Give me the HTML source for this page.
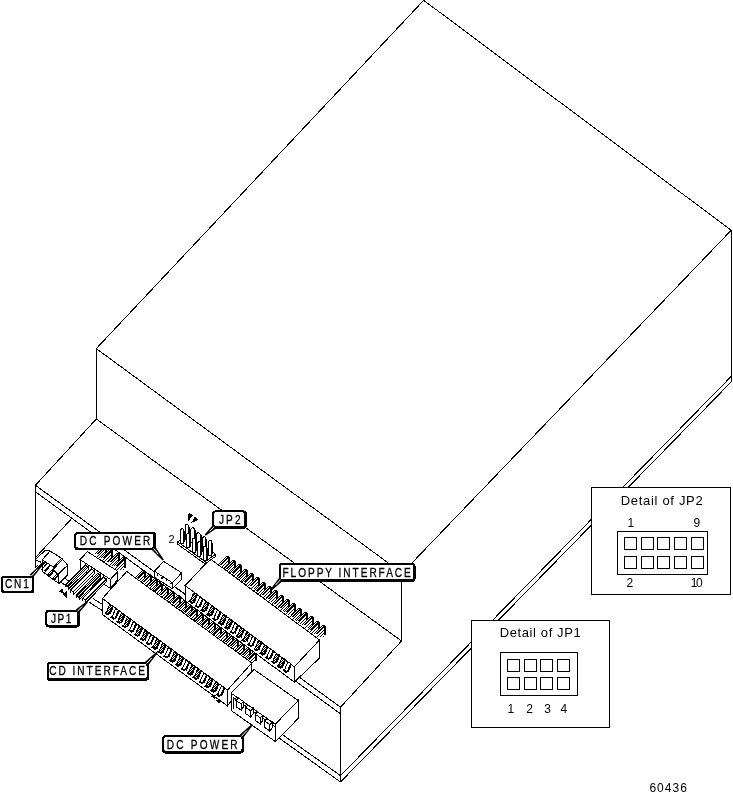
<!DOCTYPE html>
<html lang="en">
<head>
<meta charset="utf-8">
<title>Drive connector diagram</title>
<style>
html,body{margin:0;padding:0;background:#fff;}
body{width:733px;height:802px;overflow:hidden;}
svg{display:block;will-change:transform;}
svg text{font-family:"Liberation Sans",sans-serif;fill:#000;stroke:none;}
svg text.lb{stroke:#000;stroke-width:0.3px;}
</style>
</head>
<body>
<svg width="733" height="802" viewBox="0 0 733 802" shape-rendering="crispEdges" stroke="#000" stroke-width="1" fill="none">
<defs>
<pattern id="dz" width="2" height="2" patternUnits="userSpaceOnUse"><rect width="2" height="2" fill="#fff" stroke="none"/><rect width="1" height="1" fill="#000" stroke="none"/><rect x="1" y="1" width="1" height="1" fill="#000" stroke="none"/></pattern>
<pattern id="hz" width="3" height="3" patternUnits="userSpaceOnUse"><rect width="3" height="3" fill="#fff" stroke="none"/><path d="M2,0h1v1h-1zM1,1h1v1h-1zM0,2h1v1h-1z" fill="#000" stroke="none"/></pattern>
</defs>
<rect width="733" height="802" fill="#fff" stroke="none"/>
<line x1="423.7" y1="0.3" x2="731.2" y2="230.3"/>
<line x1="423.7" y1="0.3" x2="96.3" y2="348.6"/>
<line x1="96.3" y1="348.6" x2="401.5" y2="572.7"/>
<line x1="731.2" y1="230.3" x2="402.6" y2="572.7"/>
<line x1="96.3" y1="348.6" x2="96.3" y2="419"/>
<line x1="731.5" y1="230.3" x2="731.5" y2="381.6"/>
<line x1="401.5" y1="572.7" x2="401.5" y2="641"/>
<line x1="96.3" y1="419" x2="401.5" y2="641"/>
<line x1="96.3" y1="419" x2="35.4" y2="485.3"/>
<line x1="35.5" y1="485.3" x2="35.5" y2="567.6"/>
<line x1="35.4" y1="485.3" x2="340.5" y2="707.2"/>
<line x1="36.4" y1="492.5" x2="340.5" y2="713.8"/>
<line x1="71.8" y1="518.4" x2="35.8" y2="557.2"/>
<line x1="45.7" y1="550" x2="36.1" y2="558.6"/>
<line x1="731.5" y1="376.1" x2="340.5" y2="775.6"/>
<line x1="731.5" y1="381.6" x2="340.5" y2="782"/>
<line x1="340.5" y1="707.2" x2="340.5" y2="782"/>
<line x1="401.5" y1="641" x2="340.5" y2="707.2"/>
<line x1="340.5" y1="775.6" x2="276" y2="730.1"/>
<line x1="340.5" y1="782" x2="276" y2="735.8"/>
<polygon points="61.7,558.3 67.7,565.2 67.7,574.8 58.9,583.6 43,572 42.2,559.7" fill="#fff" stroke="#000"/>
<line x1="67.7" y1="565.2" x2="57.8" y2="574.5"/>
<line x1="58.9" y1="574.5" x2="58.9" y2="583.6"/>
<line x1="53.4" y1="567.1" x2="53.4" y2="569.8"/>
<line x1="53.4" y1="569.8" x2="57.8" y2="574.5"/>
<line x1="64.4" y1="578.1" x2="72.3" y2="583.6"/>
<line x1="60.6" y1="581.9" x2="67.7" y2="586.9"/>
<polygon points="42.2,559.7 50.1,551.1 61.7,558.3 53.4,567.1" fill="#fff" stroke="#000"/>
<line x1="61.7" y1="560" x2="54" y2="568.6"/>
<line x1="45.7" y1="550" x2="50.1" y2="551.1"/>
<line x1="42.2" y1="559.7" x2="42.2" y2="562.7"/>
<line x1="35.8" y1="559.9" x2="42.2" y2="562.7"/>
<line x1="35.6" y1="567.6" x2="39.7" y2="564.3"/>
<polygon points="44.6,561.4 46,562.6 38,570.6 36.6,569.4" fill="#000" stroke="none"/>
<polygon points="42,561.6 43,562.4 37,568.4 36,567.6" fill="url(#dz)" stroke="none"/>
<polygon points="49.6,564.4 51,565.8 45.4,572.2 44,570.8" fill="#000" stroke="none"/>
<line x1="47.4" y1="563" x2="41.2" y2="570"/>
<polygon points="52.2,569.8 54,571.2 49,576.6 47.2,575.2" fill="url(#hz)" stroke="#000"/>
<polygon points="56.8,574.2 58.4,575.6 54.4,580 52.8,578.6" fill="url(#hz)" stroke="#000"/>
<polygon points="105,547 105,558 94,558" fill="url(#hz)" stroke="none"/>
<polygon points="111,551 111,562 100,562" fill="url(#hz)" stroke="none"/>
<polygon points="118,555 118,566 107,566" fill="url(#hz)" stroke="none"/>
<polygon points="124,559 124,570 113,570" fill="url(#hz)" stroke="none"/>
<rect x="105" y="546" width="2" height="10" fill="#000" stroke="none"/>
<rect x="103" y="545" width="3" height="1" fill="#000" stroke="none"/>
<polygon points="103,546 105,546 97,554 95,554" fill="#fff" stroke="none"/>
<polygon points="102,546 103,546 95,554 94,554" fill="#000" stroke="none"/>
<polygon points="104.6,546 106,546 98,554 96.6,554" fill="#000" stroke="none"/>
<rect x="111" y="550" width="2" height="10" fill="#000" stroke="none"/>
<rect x="109" y="549" width="3" height="1" fill="#000" stroke="none"/>
<polygon points="109,550 111,550 103,558 101,558" fill="#fff" stroke="none"/>
<polygon points="108,550 109,550 101,558 100,558" fill="#000" stroke="none"/>
<polygon points="110.6,550 112,550 104,558 102.6,558" fill="#000" stroke="none"/>
<rect x="118" y="554" width="2" height="10" fill="#000" stroke="none"/>
<rect x="116" y="553" width="3" height="1" fill="#000" stroke="none"/>
<polygon points="116,554 118,554 110,562 108,562" fill="#fff" stroke="none"/>
<polygon points="115,554 116,554 108,562 107,562" fill="#000" stroke="none"/>
<polygon points="117.6,554 119,554 111,562 109.6,562" fill="#000" stroke="none"/>
<rect x="124" y="558" width="2" height="10" fill="#000" stroke="none"/>
<rect x="122" y="557" width="3" height="1" fill="#000" stroke="none"/>
<polygon points="122,558 124,558 116,566 114,566" fill="#fff" stroke="none"/>
<polygon points="121,558 122,558 114,566 113,566" fill="#000" stroke="none"/>
<polygon points="123.6,558 125,558 117,566 115.6,566" fill="#000" stroke="none"/>
<line x1="93.2" y1="598.7" x2="102.3" y2="604.4"/>
<line x1="88.9" y1="602" x2="102.3" y2="610.6"/>
<polygon points="110.4,579.4 117.9,571.4 117.9,579.4 110.4,588.4" fill="#fff" stroke="#000"/>
<polygon points="80,559.6 110.4,579.4 110.4,588.4 80,568.6" fill="#fff" stroke="#000"/>
<polygon points="80,559.6 110.4,579.4 117.9,571.4 87.5,551.6" fill="#fff" stroke="#000"/>
<polygon points="85.4,565 88,567.2 68.4,586.2 65.8,584" fill="url(#dz)" stroke="#000"/>
<polygon points="88,567.2 88,570 68.4,589 68.4,586.2" fill="#fff" stroke="#000"/>
<line x1="65.8" y1="584" x2="65.8" y2="586.8"/>
<polygon points="91.6,568.7 94.2,570.9 73.3,592 70.7,589.8" fill="#fff" stroke="#000"/>
<polygon points="94.2,570.9 94.2,573.7 73.3,594.8 73.3,592" fill="#fff" stroke="#000"/>
<line x1="70.7" y1="589.8" x2="70.7" y2="592.6"/>
<polygon points="97.8,573 100.4,575.2 79.1,597.4 76.5,595.2" fill="url(#dz)" stroke="#000"/>
<polygon points="100.4,575.2 100.4,578 79.1,600.2 79.1,597.4" fill="#fff" stroke="#000"/>
<line x1="76.5" y1="595.2" x2="76.5" y2="598"/>
<polygon points="103.5,577.1 106.1,579.3 85.3,600.3 82.7,598.1" fill="#fff" stroke="#000"/>
<polygon points="106.1,579.3 106.1,582.1 85.3,603.1 85.3,600.3" fill="#fff" stroke="#000"/>
<line x1="82.7" y1="598.1" x2="82.7" y2="600.9"/>
<polygon points="58.6,591.5 63.2,588 63.6,593.6" fill="#000" stroke="none"/>
<polygon points="62.8,595 67.2,590.6 67.2,598" fill="#000" stroke="none"/>
<polygon points="144,572 144,582 134,582" fill="url(#hz)" stroke="none"/>
<polygon points="150,576 150,586 140,586" fill="url(#hz)" stroke="none"/>
<polygon points="156,580 156,590 146,590" fill="url(#hz)" stroke="none"/>
<polygon points="161,585 161,595 151,595" fill="url(#hz)" stroke="none"/>
<polygon points="167,589 167,599 157,599" fill="url(#hz)" stroke="none"/>
<polygon points="173,593 173,603 163,603" fill="url(#hz)" stroke="none"/>
<polygon points="179,597 179,607 169,607" fill="url(#hz)" stroke="none"/>
<polygon points="185,602 185,612 175,612" fill="url(#hz)" stroke="none"/>
<polygon points="191,606 191,616 181,616" fill="url(#hz)" stroke="none"/>
<polygon points="196,610 196,620 186,620" fill="url(#hz)" stroke="none"/>
<polygon points="202,615 202,625 192,625" fill="url(#hz)" stroke="none"/>
<polygon points="208,619 208,629 198,629" fill="url(#hz)" stroke="none"/>
<polygon points="214,623 214,633 204,633" fill="url(#hz)" stroke="none"/>
<polygon points="220,628 220,638 210,638" fill="url(#hz)" stroke="none"/>
<polygon points="226,632 226,642 216,642" fill="url(#hz)" stroke="none"/>
<polygon points="232,636 232,646 222,646" fill="url(#hz)" stroke="none"/>
<polygon points="237,640 237,650 227,650" fill="url(#hz)" stroke="none"/>
<polygon points="243,645 243,655 233,655" fill="url(#hz)" stroke="none"/>
<polygon points="249,649 249,659 239,659" fill="url(#hz)" stroke="none"/>
<polygon points="255,653 255,663 245,663" fill="url(#hz)" stroke="none"/>
<rect x="144" y="571" width="2" height="9" fill="#000" stroke="none"/>
<rect x="142" y="570" width="3" height="1" fill="#000" stroke="none"/>
<polygon points="142,571 144,571 137,578 135,578" fill="#fff" stroke="none"/>
<polygon points="141,571 142,571 135,578 134,578" fill="#000" stroke="none"/>
<polygon points="143.6,571 145,571 138,578 136.6,578" fill="#000" stroke="none"/>
<rect x="150" y="575" width="2" height="9" fill="#000" stroke="none"/>
<rect x="148" y="574" width="3" height="1" fill="#000" stroke="none"/>
<polygon points="148,575 150,575 143,582 141,582" fill="#fff" stroke="none"/>
<polygon points="147,575 148,575 141,582 140,582" fill="#000" stroke="none"/>
<polygon points="149.6,575 151,575 144,582 142.6,582" fill="#000" stroke="none"/>
<rect x="156" y="579" width="2" height="9" fill="#000" stroke="none"/>
<rect x="154" y="578" width="3" height="1" fill="#000" stroke="none"/>
<polygon points="154,579 156,579 149,586 147,586" fill="#fff" stroke="none"/>
<polygon points="153,579 154,579 147,586 146,586" fill="#000" stroke="none"/>
<polygon points="155.6,579 157,579 150,586 148.6,586" fill="#000" stroke="none"/>
<rect x="161" y="584" width="2" height="9" fill="#000" stroke="none"/>
<rect x="159" y="583" width="3" height="1" fill="#000" stroke="none"/>
<polygon points="159,584 161,584 154,591 152,591" fill="#fff" stroke="none"/>
<polygon points="158,584 159,584 152,591 151,591" fill="#000" stroke="none"/>
<polygon points="160.6,584 162,584 155,591 153.6,591" fill="#000" stroke="none"/>
<rect x="167" y="588" width="2" height="9" fill="#000" stroke="none"/>
<rect x="165" y="587" width="3" height="1" fill="#000" stroke="none"/>
<polygon points="165,588 167,588 160,595 158,595" fill="#fff" stroke="none"/>
<polygon points="164,588 165,588 158,595 157,595" fill="#000" stroke="none"/>
<polygon points="166.6,588 168,588 161,595 159.6,595" fill="#000" stroke="none"/>
<rect x="173" y="592" width="2" height="9" fill="#000" stroke="none"/>
<rect x="171" y="591" width="3" height="1" fill="#000" stroke="none"/>
<polygon points="171,592 173,592 166,599 164,599" fill="#fff" stroke="none"/>
<polygon points="170,592 171,592 164,599 163,599" fill="#000" stroke="none"/>
<polygon points="172.6,592 174,592 167,599 165.6,599" fill="#000" stroke="none"/>
<rect x="179" y="596" width="2" height="9" fill="#000" stroke="none"/>
<rect x="177" y="595" width="3" height="1" fill="#000" stroke="none"/>
<polygon points="177,596 179,596 172,603 170,603" fill="#fff" stroke="none"/>
<polygon points="176,596 177,596 170,603 169,603" fill="#000" stroke="none"/>
<polygon points="178.6,596 180,596 173,603 171.6,603" fill="#000" stroke="none"/>
<rect x="185" y="601" width="2" height="9" fill="#000" stroke="none"/>
<rect x="183" y="600" width="3" height="1" fill="#000" stroke="none"/>
<polygon points="183,601 185,601 178,608 176,608" fill="#fff" stroke="none"/>
<polygon points="182,601 183,601 176,608 175,608" fill="#000" stroke="none"/>
<polygon points="184.6,601 186,601 179,608 177.6,608" fill="#000" stroke="none"/>
<rect x="191" y="605" width="2" height="9" fill="#000" stroke="none"/>
<rect x="189" y="604" width="3" height="1" fill="#000" stroke="none"/>
<polygon points="189,605 191,605 184,612 182,612" fill="#fff" stroke="none"/>
<polygon points="188,605 189,605 182,612 181,612" fill="#000" stroke="none"/>
<polygon points="190.6,605 192,605 185,612 183.6,612" fill="#000" stroke="none"/>
<rect x="196" y="609" width="2" height="9" fill="#000" stroke="none"/>
<rect x="194" y="608" width="3" height="1" fill="#000" stroke="none"/>
<polygon points="194,609 196,609 189,616 187,616" fill="#fff" stroke="none"/>
<polygon points="193,609 194,609 187,616 186,616" fill="#000" stroke="none"/>
<polygon points="195.6,609 197,609 190,616 188.6,616" fill="#000" stroke="none"/>
<rect x="202" y="614" width="2" height="9" fill="#000" stroke="none"/>
<rect x="200" y="613" width="3" height="1" fill="#000" stroke="none"/>
<polygon points="200,614 202,614 195,621 193,621" fill="#fff" stroke="none"/>
<polygon points="199,614 200,614 193,621 192,621" fill="#000" stroke="none"/>
<polygon points="201.6,614 203,614 196,621 194.6,621" fill="#000" stroke="none"/>
<rect x="208" y="618" width="2" height="9" fill="#000" stroke="none"/>
<rect x="206" y="617" width="3" height="1" fill="#000" stroke="none"/>
<polygon points="206,618 208,618 201,625 199,625" fill="#fff" stroke="none"/>
<polygon points="205,618 206,618 199,625 198,625" fill="#000" stroke="none"/>
<polygon points="207.6,618 209,618 202,625 200.6,625" fill="#000" stroke="none"/>
<rect x="214" y="622" width="2" height="9" fill="#000" stroke="none"/>
<rect x="212" y="621" width="3" height="1" fill="#000" stroke="none"/>
<polygon points="212,622 214,622 207,629 205,629" fill="#fff" stroke="none"/>
<polygon points="211,622 212,622 205,629 204,629" fill="#000" stroke="none"/>
<polygon points="213.6,622 215,622 208,629 206.6,629" fill="#000" stroke="none"/>
<rect x="220" y="627" width="2" height="9" fill="#000" stroke="none"/>
<rect x="218" y="626" width="3" height="1" fill="#000" stroke="none"/>
<polygon points="218,627 220,627 213,634 211,634" fill="#fff" stroke="none"/>
<polygon points="217,627 218,627 211,634 210,634" fill="#000" stroke="none"/>
<polygon points="219.6,627 221,627 214,634 212.6,634" fill="#000" stroke="none"/>
<rect x="226" y="631" width="2" height="9" fill="#000" stroke="none"/>
<rect x="224" y="630" width="3" height="1" fill="#000" stroke="none"/>
<polygon points="224,631 226,631 219,638 217,638" fill="#fff" stroke="none"/>
<polygon points="223,631 224,631 217,638 216,638" fill="#000" stroke="none"/>
<polygon points="225.6,631 227,631 220,638 218.6,638" fill="#000" stroke="none"/>
<rect x="232" y="635" width="2" height="9" fill="#000" stroke="none"/>
<rect x="230" y="634" width="3" height="1" fill="#000" stroke="none"/>
<polygon points="230,635 232,635 225,642 223,642" fill="#fff" stroke="none"/>
<polygon points="229,635 230,635 223,642 222,642" fill="#000" stroke="none"/>
<polygon points="231.6,635 233,635 226,642 224.6,642" fill="#000" stroke="none"/>
<rect x="237" y="639" width="2" height="9" fill="#000" stroke="none"/>
<rect x="235" y="638" width="3" height="1" fill="#000" stroke="none"/>
<polygon points="235,639 237,639 230,646 228,646" fill="#fff" stroke="none"/>
<polygon points="234,639 235,639 228,646 227,646" fill="#000" stroke="none"/>
<polygon points="236.6,639 238,639 231,646 229.6,646" fill="#000" stroke="none"/>
<rect x="243" y="644" width="2" height="9" fill="#000" stroke="none"/>
<rect x="241" y="643" width="3" height="1" fill="#000" stroke="none"/>
<polygon points="241,644 243,644 236,651 234,651" fill="#fff" stroke="none"/>
<polygon points="240,644 241,644 234,651 233,651" fill="#000" stroke="none"/>
<polygon points="242.6,644 244,644 237,651 235.6,651" fill="#000" stroke="none"/>
<rect x="249" y="648" width="2" height="9" fill="#000" stroke="none"/>
<rect x="247" y="647" width="3" height="1" fill="#000" stroke="none"/>
<polygon points="247,648 249,648 242,655 240,655" fill="#fff" stroke="none"/>
<polygon points="246,648 247,648 240,655 239,655" fill="#000" stroke="none"/>
<polygon points="248.6,648 250,648 243,655 241.6,655" fill="#000" stroke="none"/>
<rect x="255" y="652" width="2" height="9" fill="#000" stroke="none"/>
<rect x="253" y="651" width="3" height="1" fill="#000" stroke="none"/>
<polygon points="253,652 255,652 248,659 246,659" fill="#fff" stroke="none"/>
<polygon points="252,652 253,652 246,659 245,659" fill="#000" stroke="none"/>
<polygon points="254.6,652 256,652 249,659 247.6,659" fill="#000" stroke="none"/>
<polygon points="228,558 228,568 218,568" fill="url(#hz)" stroke="none"/>
<polygon points="234,562 234,572 224,572" fill="url(#hz)" stroke="none"/>
<polygon points="240,566 240,576 230,576" fill="url(#hz)" stroke="none"/>
<polygon points="246,571 246,581 236,581" fill="url(#hz)" stroke="none"/>
<polygon points="252,575 252,585 242,585" fill="url(#hz)" stroke="none"/>
<polygon points="258,579 258,589 248,589" fill="url(#hz)" stroke="none"/>
<polygon points="264,584 264,594 254,594" fill="url(#hz)" stroke="none"/>
<polygon points="270,588 270,598 260,598" fill="url(#hz)" stroke="none"/>
<polygon points="276,592 276,602 266,602" fill="url(#hz)" stroke="none"/>
<polygon points="282,597 282,607 272,607" fill="url(#hz)" stroke="none"/>
<polygon points="288,601 288,611 278,611" fill="url(#hz)" stroke="none"/>
<polygon points="294,605 294,615 284,615" fill="url(#hz)" stroke="none"/>
<polygon points="300,610 300,620 290,620" fill="url(#hz)" stroke="none"/>
<polygon points="306,614 306,624 296,624" fill="url(#hz)" stroke="none"/>
<polygon points="312,618 312,628 302,628" fill="url(#hz)" stroke="none"/>
<polygon points="318,623 318,633 308,633" fill="url(#hz)" stroke="none"/>
<polygon points="324,627 324,637 314,637" fill="url(#hz)" stroke="none"/>
<rect x="228" y="557" width="2" height="9" fill="#000" stroke="none"/>
<rect x="226" y="556" width="3" height="1" fill="#000" stroke="none"/>
<polygon points="226,557 228,557 220,565 218,565" fill="#fff" stroke="none"/>
<polygon points="225,557 226,557 218,565 217,565" fill="#000" stroke="none"/>
<polygon points="227.6,557 229,557 221,565 219.6,565" fill="#000" stroke="none"/>
<rect x="234" y="561" width="2" height="9" fill="#000" stroke="none"/>
<rect x="232" y="560" width="3" height="1" fill="#000" stroke="none"/>
<polygon points="232,561 234,561 226,569 224,569" fill="#fff" stroke="none"/>
<polygon points="231,561 232,561 224,569 223,569" fill="#000" stroke="none"/>
<polygon points="233.6,561 235,561 227,569 225.6,569" fill="#000" stroke="none"/>
<rect x="240" y="565" width="2" height="9" fill="#000" stroke="none"/>
<rect x="238" y="564" width="3" height="1" fill="#000" stroke="none"/>
<polygon points="238,565 240,565 232,573 230,573" fill="#fff" stroke="none"/>
<polygon points="237,565 238,565 230,573 229,573" fill="#000" stroke="none"/>
<polygon points="239.6,565 241,565 233,573 231.6,573" fill="#000" stroke="none"/>
<rect x="246" y="570" width="2" height="9" fill="#000" stroke="none"/>
<rect x="244" y="569" width="3" height="1" fill="#000" stroke="none"/>
<polygon points="244,570 246,570 238,578 236,578" fill="#fff" stroke="none"/>
<polygon points="243,570 244,570 236,578 235,578" fill="#000" stroke="none"/>
<polygon points="245.6,570 247,570 239,578 237.6,578" fill="#000" stroke="none"/>
<rect x="252" y="574" width="2" height="9" fill="#000" stroke="none"/>
<rect x="250" y="573" width="3" height="1" fill="#000" stroke="none"/>
<polygon points="250,574 252,574 244,582 242,582" fill="#fff" stroke="none"/>
<polygon points="249,574 250,574 242,582 241,582" fill="#000" stroke="none"/>
<polygon points="251.6,574 253,574 245,582 243.6,582" fill="#000" stroke="none"/>
<rect x="258" y="578" width="2" height="9" fill="#000" stroke="none"/>
<rect x="256" y="577" width="3" height="1" fill="#000" stroke="none"/>
<polygon points="256,578 258,578 250,586 248,586" fill="#fff" stroke="none"/>
<polygon points="255,578 256,578 248,586 247,586" fill="#000" stroke="none"/>
<polygon points="257.6,578 259,578 251,586 249.6,586" fill="#000" stroke="none"/>
<rect x="264" y="583" width="2" height="9" fill="#000" stroke="none"/>
<rect x="262" y="582" width="3" height="1" fill="#000" stroke="none"/>
<polygon points="262,583 264,583 256,591 254,591" fill="#fff" stroke="none"/>
<polygon points="261,583 262,583 254,591 253,591" fill="#000" stroke="none"/>
<polygon points="263.6,583 265,583 257,591 255.6,591" fill="#000" stroke="none"/>
<rect x="270" y="587" width="2" height="9" fill="#000" stroke="none"/>
<rect x="268" y="586" width="3" height="1" fill="#000" stroke="none"/>
<polygon points="268,587 270,587 262,595 260,595" fill="#fff" stroke="none"/>
<polygon points="267,587 268,587 260,595 259,595" fill="#000" stroke="none"/>
<polygon points="269.6,587 271,587 263,595 261.6,595" fill="#000" stroke="none"/>
<rect x="276" y="591" width="2" height="9" fill="#000" stroke="none"/>
<rect x="274" y="590" width="3" height="1" fill="#000" stroke="none"/>
<polygon points="274,591 276,591 268,599 266,599" fill="#fff" stroke="none"/>
<polygon points="273,591 274,591 266,599 265,599" fill="#000" stroke="none"/>
<polygon points="275.6,591 277,591 269,599 267.6,599" fill="#000" stroke="none"/>
<rect x="282" y="596" width="2" height="9" fill="#000" stroke="none"/>
<rect x="280" y="595" width="3" height="1" fill="#000" stroke="none"/>
<polygon points="280,596 282,596 274,604 272,604" fill="#fff" stroke="none"/>
<polygon points="279,596 280,596 272,604 271,604" fill="#000" stroke="none"/>
<polygon points="281.6,596 283,596 275,604 273.6,604" fill="#000" stroke="none"/>
<rect x="288" y="600" width="2" height="9" fill="#000" stroke="none"/>
<rect x="286" y="599" width="3" height="1" fill="#000" stroke="none"/>
<polygon points="286,600 288,600 280,608 278,608" fill="#fff" stroke="none"/>
<polygon points="285,600 286,600 278,608 277,608" fill="#000" stroke="none"/>
<polygon points="287.6,600 289,600 281,608 279.6,608" fill="#000" stroke="none"/>
<rect x="294" y="604" width="2" height="9" fill="#000" stroke="none"/>
<rect x="292" y="603" width="3" height="1" fill="#000" stroke="none"/>
<polygon points="292,604 294,604 286,612 284,612" fill="#fff" stroke="none"/>
<polygon points="291,604 292,604 284,612 283,612" fill="#000" stroke="none"/>
<polygon points="293.6,604 295,604 287,612 285.6,612" fill="#000" stroke="none"/>
<rect x="300" y="609" width="2" height="9" fill="#000" stroke="none"/>
<rect x="298" y="608" width="3" height="1" fill="#000" stroke="none"/>
<polygon points="298,609 300,609 292,617 290,617" fill="#fff" stroke="none"/>
<polygon points="297,609 298,609 290,617 289,617" fill="#000" stroke="none"/>
<polygon points="299.6,609 301,609 293,617 291.6,617" fill="#000" stroke="none"/>
<rect x="306" y="613" width="2" height="9" fill="#000" stroke="none"/>
<rect x="304" y="612" width="3" height="1" fill="#000" stroke="none"/>
<polygon points="304,613 306,613 298,621 296,621" fill="#fff" stroke="none"/>
<polygon points="303,613 304,613 296,621 295,621" fill="#000" stroke="none"/>
<polygon points="305.6,613 307,613 299,621 297.6,621" fill="#000" stroke="none"/>
<rect x="312" y="617" width="2" height="9" fill="#000" stroke="none"/>
<rect x="310" y="616" width="3" height="1" fill="#000" stroke="none"/>
<polygon points="310,617 312,617 304,625 302,625" fill="#fff" stroke="none"/>
<polygon points="309,617 310,617 302,625 301,625" fill="#000" stroke="none"/>
<polygon points="311.6,617 313,617 305,625 303.6,625" fill="#000" stroke="none"/>
<rect x="318" y="622" width="2" height="9" fill="#000" stroke="none"/>
<rect x="316" y="621" width="3" height="1" fill="#000" stroke="none"/>
<polygon points="316,622 318,622 310,630 308,630" fill="#fff" stroke="none"/>
<polygon points="315,622 316,622 308,630 307,630" fill="#000" stroke="none"/>
<polygon points="317.6,622 319,622 311,630 309.6,630" fill="#000" stroke="none"/>
<rect x="324" y="626" width="2" height="9" fill="#000" stroke="none"/>
<rect x="322" y="625" width="3" height="1" fill="#000" stroke="none"/>
<polygon points="322,626 324,626 316,634 314,634" fill="#fff" stroke="none"/>
<polygon points="321,626 322,626 314,634 313,634" fill="#000" stroke="none"/>
<polygon points="323.6,626 325,626 317,634 315.6,634" fill="#000" stroke="none"/>
<polygon points="294.3,666.8 319.5,640 319.5,658 294.3,682.1" fill="#fff" stroke="#000"/>
<polygon points="185.1,585.6 294.3,666.8 294.3,682.1 185.1,600.9" fill="#fff" stroke="#000"/>
<polygon points="185.1,585.6 294.3,666.8 319.5,640 210.3,558.8" fill="#fff" stroke="#000"/>
<polygon points="193.6,593.3 196.6,594.3 193,602.5 190,601.5" fill="url(#dz)" stroke="#000"/>
<polygon points="196.6,594.1 197.9,595.1 194.3,603.3 193,602.3" fill="#000" stroke="none"/>
<polygon points="189.5,600.3 193,602.9 192.2,604.1 188.2,601.7" fill="#000" stroke="none"/>
<polygon points="199.5,597.6 202.5,598.6 198.9,606.8 195.9,605.8" fill="#fff" stroke="#000"/>
<polygon points="202.5,598.4 203.8,599.4 200.2,607.6 198.9,606.6" fill="#000" stroke="none"/>
<polygon points="195.4,604.6 198.9,607.2 198.1,608.4 194.1,606" fill="#000" stroke="none"/>
<polygon points="205.4,601.9 208.4,602.9 204.8,611.1 201.8,610.1" fill="url(#dz)" stroke="#000"/>
<polygon points="208.4,602.7 209.7,603.7 206.1,611.9 204.8,610.9" fill="#000" stroke="none"/>
<polygon points="201.3,608.9 204.8,611.5 204,612.7 200,610.3" fill="#000" stroke="none"/>
<polygon points="211.3,606.2 214.3,607.2 210.7,615.4 207.7,614.4" fill="url(#dz)" stroke="#000"/>
<polygon points="214.3,607 215.6,608 212,616.2 210.7,615.2" fill="#000" stroke="none"/>
<polygon points="207.2,613.2 210.7,615.8 209.9,617 205.9,614.6" fill="#000" stroke="none"/>
<polygon points="217.2,610.5 220.2,611.5 216.6,619.7 213.6,618.7" fill="#fff" stroke="#000"/>
<polygon points="220.2,611.3 221.5,612.3 217.9,620.5 216.6,619.5" fill="#000" stroke="none"/>
<polygon points="213.1,617.5 216.6,620.1 215.8,621.3 211.8,618.9" fill="#000" stroke="none"/>
<polygon points="223,614.8 226,615.8 222.4,624 219.4,623" fill="url(#dz)" stroke="#000"/>
<polygon points="226,615.6 227.3,616.6 223.8,624.8 222.4,623.8" fill="#000" stroke="none"/>
<polygon points="218.9,621.8 222.4,624.4 221.6,625.6 217.6,623.2" fill="#000" stroke="none"/>
<polygon points="228.9,619.2 231.9,620.2 228.3,628.4 225.3,627.4" fill="url(#dz)" stroke="#000"/>
<polygon points="231.9,620 233.2,621 229.6,629.2 228.3,628.2" fill="#000" stroke="none"/>
<polygon points="224.8,626.2 228.3,628.8 227.5,630 223.5,627.6" fill="#000" stroke="none"/>
<polygon points="234.8,623.5 237.8,624.5 234.2,632.7 231.2,631.7" fill="#fff" stroke="#000"/>
<polygon points="237.8,624.3 239.1,625.3 235.5,633.5 234.2,632.5" fill="#000" stroke="none"/>
<polygon points="230.7,630.5 234.2,633.1 233.4,634.3 229.4,631.9" fill="#000" stroke="none"/>
<polygon points="240.7,627.8 243.7,628.8 240.1,637 237.1,636" fill="url(#dz)" stroke="#000"/>
<polygon points="243.7,628.6 245,629.6 241.4,637.8 240.1,636.8" fill="#000" stroke="none"/>
<polygon points="236.6,634.8 240.1,637.4 239.3,638.6 235.3,636.2" fill="#000" stroke="none"/>
<polygon points="246.6,632.1 249.6,633.1 246,641.3 243,640.3" fill="url(#dz)" stroke="#000"/>
<polygon points="249.6,632.9 250.9,633.9 247.3,642.1 246,641.1" fill="#000" stroke="none"/>
<polygon points="242.5,639.1 246,641.7 245.2,642.9 241.2,640.5" fill="#000" stroke="none"/>
<polygon points="252.5,636.4 255.5,637.4 251.9,645.6 248.9,644.6" fill="#fff" stroke="#000"/>
<polygon points="255.5,637.2 256.8,638.2 253.2,646.4 251.9,645.4" fill="#000" stroke="none"/>
<polygon points="248.4,643.4 251.9,646 251.1,647.2 247.1,644.8" fill="#000" stroke="none"/>
<polygon points="258.4,640.7 261.4,641.7 257.8,649.9 254.8,648.9" fill="url(#dz)" stroke="#000"/>
<polygon points="261.4,641.5 262.7,642.5 259.1,650.7 257.8,649.7" fill="#000" stroke="none"/>
<polygon points="254.3,647.7 257.8,650.3 257,651.5 253,649.1" fill="#000" stroke="none"/>
<polygon points="264.3,645 267.3,646 263.7,654.2 260.7,653.2" fill="url(#dz)" stroke="#000"/>
<polygon points="267.3,645.8 268.6,646.8 265,655 263.7,654" fill="#000" stroke="none"/>
<polygon points="260.2,652 263.7,654.6 262.9,655.8 258.9,653.4" fill="#000" stroke="none"/>
<polygon points="270.2,649.3 273.2,650.3 269.6,658.5 266.6,657.5" fill="#fff" stroke="#000"/>
<polygon points="273.2,650.1 274.5,651.1 270.9,659.3 269.6,658.3" fill="#000" stroke="none"/>
<polygon points="266.1,656.3 269.6,658.9 268.8,660.1 264.8,657.7" fill="#000" stroke="none"/>
<polygon points="276.1,653.6 279.1,654.6 275.5,662.8 272.5,661.8" fill="url(#dz)" stroke="#000"/>
<polygon points="279.1,654.4 280.4,655.4 276.8,663.6 275.5,662.6" fill="#000" stroke="none"/>
<polygon points="272,660.6 275.5,663.2 274.7,664.4 270.7,662" fill="#000" stroke="none"/>
<polygon points="281.9,657.9 284.9,658.9 281.3,667.1 278.3,666.1" fill="url(#dz)" stroke="#000"/>
<polygon points="284.9,658.7 286.2,659.7 282.6,667.9 281.3,666.9" fill="#000" stroke="none"/>
<polygon points="277.8,664.9 281.3,667.5 280.5,668.8 276.5,666.4" fill="#000" stroke="none"/>
<polygon points="287.8,662.3 290.8,663.3 287.2,671.5 284.2,670.5" fill="#fff" stroke="#000"/>
<polygon points="290.8,663.1 292.1,664.1 288.5,672.3 287.2,671.3" fill="#000" stroke="none"/>
<polygon points="283.7,669.3 287.2,671.9 286.4,673.1 282.4,670.7" fill="#000" stroke="none"/>
<polygon points="205.2,561.6 215.5,554.2 215.5,556.4 205.2,564" fill="#fff" stroke="#000"/>
<polygon points="177.8,541.9 205.2,561.6 205.2,564 177.8,544.3" fill="#fff" stroke="#000"/>
<polygon points="177.8,541.9 205.2,561.6 215.5,554.2 188.1,534.5" fill="#fff" stroke="#000"/>
<path d="M185.2,539 V525.5 Q186.9,522.8 188.6,525.5 V539 Z" fill="#fff" stroke="#000"/>
<rect x="188.6" y="526.5" width="1.5" height="11.5" fill="#000" stroke="none"/>
<path d="M190.9,542.5 V529 Q192.6,526.3 194.3,529 V542.5 Z" fill="#fff" stroke="#000"/>
<rect x="194.3" y="530" width="1.5" height="11.5" fill="#000" stroke="none"/>
<path d="M196.6,547.5 V534 Q198.3,531.3 200,534 V547.5 Z" fill="#fff" stroke="#000"/>
<rect x="200" y="535" width="1.5" height="11.5" fill="#000" stroke="none"/>
<path d="M202.4,551.6 V538.1 Q204.1,535.4 205.8,538.1 V551.6 Z" fill="#fff" stroke="#000"/>
<rect x="205.8" y="539.1" width="1.5" height="11.5" fill="#000" stroke="none"/>
<path d="M208.5,555.2 V541.7 Q210.2,539 211.9,541.7 V555.2 Z" fill="#fff" stroke="#000"/>
<rect x="211.9" y="542.7" width="1.5" height="11.5" fill="#000" stroke="none"/>
<path d="M180.4,543.1 V530.1 Q182.1,527.4 183.8,530.1 V543.1 Z" fill="#fff" stroke="#000"/>
<rect x="183.8" y="531.1" width="1.5" height="11" fill="#000" stroke="none"/>
<path d="M186.4,547.8 V534.8 Q188.1,532.1 189.8,534.8 V547.8 Z" fill="#fff" stroke="#000"/>
<rect x="189.8" y="535.8" width="1.5" height="11" fill="#000" stroke="none"/>
<path d="M192.1,552.3 V539.3 Q193.8,536.6 195.5,539.3 V552.3 Z" fill="#fff" stroke="#000"/>
<rect x="195.5" y="540.3" width="1.5" height="11" fill="#000" stroke="none"/>
<path d="M197.5,556.1 V543.1 Q199.2,540.4 200.9,543.1 V556.1 Z" fill="#fff" stroke="#000"/>
<rect x="200.9" y="544.1" width="1.5" height="11" fill="#000" stroke="none"/>
<path d="M203.2,560.5 V547.5 Q204.9,544.8 206.6,547.5 V560.5 Z" fill="#fff" stroke="#000"/>
<rect x="206.6" y="548.5" width="1.5" height="11" fill="#000" stroke="none"/>
<polygon points="188.6,512.6 193.4,515 188,521.5" fill="#000" stroke="none"/>
<polygon points="195,516.6 198.4,520 191.2,523" fill="#000" stroke="none"/>
<text x="168.6" y="543.4" font-size="11">2</text>
<polygon points="227.5,690 251.8,663 251.8,671 227.5,706" fill="#fff" stroke="#000"/>
<polygon points="102.4,598.5 227.5,690 227.5,706 102.4,614.5" fill="#fff" stroke="#000"/>
<polygon points="102.4,598.5 227.5,690 251.8,663 126.7,571.5" fill="#fff" stroke="#000"/>
<polygon points="109.6,604.8 112.6,605.8 109,614 106,613" fill="url(#dz)" stroke="#000"/>
<polygon points="112.6,605.6 113.9,606.6 110.3,614.8 109,613.8" fill="#000" stroke="none"/>
<polygon points="105.5,611.8 109,614.4 108.2,615.6 104.2,613.2" fill="#000" stroke="none"/>
<polygon points="115.5,609.1 118.5,610.1 114.9,618.3 111.9,617.3" fill="#fff" stroke="#000"/>
<polygon points="118.5,609.9 119.8,610.9 116.2,619.1 114.9,618.1" fill="#000" stroke="none"/>
<polygon points="111.4,616.1 114.9,618.7 114.1,619.9 110.1,617.5" fill="#000" stroke="none"/>
<polygon points="121.3,613.4 124.3,614.4 120.7,622.6 117.7,621.6" fill="url(#dz)" stroke="#000"/>
<polygon points="124.3,614.2 125.6,615.2 122,623.4 120.7,622.4" fill="#000" stroke="none"/>
<polygon points="117.2,620.4 120.7,623 119.9,624.2 115.9,621.8" fill="#000" stroke="none"/>
<polygon points="127.2,617.7 130.2,618.7 126.6,626.9 123.6,625.9" fill="url(#dz)" stroke="#000"/>
<polygon points="130.2,618.5 131.5,619.5 127.9,627.7 126.6,626.7" fill="#000" stroke="none"/>
<polygon points="123.1,624.7 126.6,627.3 125.8,628.5 121.8,626.1" fill="#000" stroke="none"/>
<polygon points="133.1,622 136.1,623 132.5,631.2 129.5,630.2" fill="#fff" stroke="#000"/>
<polygon points="136.1,622.8 137.4,623.8 133.8,632 132.5,631" fill="#000" stroke="none"/>
<polygon points="129,629 132.5,631.6 131.7,632.8 127.7,630.4" fill="#000" stroke="none"/>
<polygon points="138.9,626.3 141.9,627.3 138.3,635.5 135.3,634.5" fill="url(#dz)" stroke="#000"/>
<polygon points="141.9,627.1 143.2,628.1 139.7,636.3 138.3,635.3" fill="#000" stroke="none"/>
<polygon points="134.8,633.3 138.3,635.9 137.5,637.1 133.5,634.7" fill="#000" stroke="none"/>
<polygon points="144.8,630.6 147.8,631.6 144.2,639.8 141.2,638.8" fill="url(#dz)" stroke="#000"/>
<polygon points="147.8,631.4 149.1,632.4 145.5,640.6 144.2,639.6" fill="#000" stroke="none"/>
<polygon points="140.7,637.6 144.2,640.2 143.4,641.4 139.4,639" fill="#000" stroke="none"/>
<polygon points="150.7,634.9 153.7,635.9 150.1,644.1 147.1,643.1" fill="#fff" stroke="#000"/>
<polygon points="153.7,635.7 155,636.7 151.4,644.9 150.1,643.9" fill="#000" stroke="none"/>
<polygon points="146.6,641.9 150.1,644.5 149.3,645.7 145.3,643.3" fill="#000" stroke="none"/>
<polygon points="156.6,639.2 159.6,640.2 156,648.4 153,647.4" fill="url(#dz)" stroke="#000"/>
<polygon points="159.6,640 160.9,641 157.3,649.2 156,648.2" fill="#000" stroke="none"/>
<polygon points="152.5,646.2 156,648.8 155.2,650 151.2,647.6" fill="#000" stroke="none"/>
<polygon points="162.4,643.5 165.4,644.5 161.8,652.7 158.8,651.7" fill="url(#dz)" stroke="#000"/>
<polygon points="165.4,644.3 166.7,645.3 163.1,653.5 161.8,652.5" fill="#000" stroke="none"/>
<polygon points="158.3,650.5 161.8,653.1 161,654.3 157,651.9" fill="#000" stroke="none"/>
<polygon points="168.3,647.8 171.3,648.8 167.7,657 164.7,656" fill="#fff" stroke="#000"/>
<polygon points="171.3,648.6 172.6,649.6 169,657.8 167.7,656.8" fill="#000" stroke="none"/>
<polygon points="164.2,654.8 167.7,657.4 166.9,658.6 162.9,656.2" fill="#000" stroke="none"/>
<polygon points="174.2,652.1 177.2,653.1 173.6,661.3 170.6,660.3" fill="url(#dz)" stroke="#000"/>
<polygon points="177.2,652.9 178.5,653.9 174.9,662.1 173.6,661.1" fill="#000" stroke="none"/>
<polygon points="170.1,659.1 173.6,661.7 172.8,662.9 168.8,660.5" fill="#000" stroke="none"/>
<polygon points="180,656.4 183,657.4 179.4,665.6 176.4,664.6" fill="url(#dz)" stroke="#000"/>
<polygon points="183,657.2 184.3,658.2 180.7,666.4 179.4,665.4" fill="#000" stroke="none"/>
<polygon points="175.9,663.4 179.4,666 178.6,667.2 174.6,664.8" fill="#000" stroke="none"/>
<polygon points="185.9,660.7 188.9,661.7 185.3,669.9 182.3,668.9" fill="#fff" stroke="#000"/>
<polygon points="188.9,661.5 190.2,662.5 186.6,670.7 185.3,669.7" fill="#000" stroke="none"/>
<polygon points="181.8,667.7 185.3,670.3 184.5,671.5 180.5,669.1" fill="#000" stroke="none"/>
<polygon points="191.8,665 194.8,666 191.2,674.2 188.2,673.2" fill="url(#dz)" stroke="#000"/>
<polygon points="194.8,665.8 196.1,666.8 192.5,675 191.2,674" fill="#000" stroke="none"/>
<polygon points="187.7,672 191.2,674.6 190.4,675.8 186.4,673.4" fill="#000" stroke="none"/>
<polygon points="197.6,669.3 200.6,670.3 197,678.5 194,677.5" fill="url(#dz)" stroke="#000"/>
<polygon points="200.6,670.1 201.9,671.1 198.3,679.3 197,678.3" fill="#000" stroke="none"/>
<polygon points="193.5,676.3 197,678.9 196.2,680.1 192.2,677.7" fill="#000" stroke="none"/>
<polygon points="203.5,673.6 206.5,674.6 202.9,682.8 199.9,681.8" fill="#fff" stroke="#000"/>
<polygon points="206.5,674.4 207.8,675.4 204.2,683.6 202.9,682.6" fill="#000" stroke="none"/>
<polygon points="199.4,680.6 202.9,683.2 202.1,684.4 198.1,682" fill="#000" stroke="none"/>
<polygon points="209.4,677.9 212.4,678.9 208.8,687.1 205.8,686.1" fill="url(#dz)" stroke="#000"/>
<polygon points="212.4,678.7 213.7,679.7 210.1,687.9 208.8,686.9" fill="#000" stroke="none"/>
<polygon points="205.3,684.9 208.8,687.5 208,688.7 204,686.3" fill="#000" stroke="none"/>
<polygon points="215.3,682.2 218.3,683.2 214.7,691.4 211.7,690.4" fill="url(#dz)" stroke="#000"/>
<polygon points="218.3,683 219.6,684 216,692.2 214.7,691.2" fill="#000" stroke="none"/>
<polygon points="211.2,689.2 214.7,691.8 213.9,693 209.9,690.6" fill="#000" stroke="none"/>
<polygon points="221.1,686.5 224.1,687.5 220.5,695.7 217.5,694.7" fill="#fff" stroke="#000"/>
<polygon points="224.1,687.3 225.4,688.3 221.8,696.5 220.5,695.5" fill="#000" stroke="none"/>
<polygon points="217,693.5 220.5,696.1 219.7,697.3 215.7,694.9" fill="#000" stroke="none"/>
<polygon points="211,696.2 215.6,695.2 214.6,698.8" fill="#000" stroke="none"/>
<polygon points="216.2,700.6 220.4,698 219.4,703.6" fill="#000" stroke="none"/>
<polygon points="172.4,582.7 181.7,572.9 181.7,579.4 172.4,588.7" fill="#fff" stroke="#000"/>
<polygon points="154.4,571.2 172.4,582.7 172.4,588.7 154.4,577.2" fill="#fff" stroke="#000"/>
<polygon points="154.4,571.2 172.4,582.7 181.7,572.9 163.7,561.4" fill="#fff" stroke="#000"/>
<rect x="156.8" y="574.1" width="1.5" height="1.5" fill="#000" stroke="none"/>
<rect x="161.2" y="577" width="1.5" height="1.5" fill="#000" stroke="none"/>
<rect x="165.6" y="579.9" width="1.5" height="1.5" fill="#000" stroke="none"/>
<rect x="170" y="582.8" width="1.5" height="1.5" fill="#000" stroke="none"/>
<line x1="176.2" y1="588.1" x2="186" y2="595"/>
<polygon points="275.3,724.2 298.2,700.5 298.2,718.5 275.3,741.5" fill="#fff" stroke="#000"/>
<polygon points="231.1,693.2 275.3,724.2 275.3,741.5 231.1,710.5" fill="#fff" stroke="#000"/>
<polygon points="231.1,693.2 275.3,724.2 298.2,700.5 254,669.5" fill="#fff" stroke="#000"/>
<line x1="233.5" y1="697.5" x2="233.5" y2="708.5"/>
<line x1="233.5" y1="697.5" x2="275.3" y2="727"/>
<polygon points="236,700.4 241,703.8 241,710 236,706.6" fill="#fff" stroke="#000"/>
<polygon points="236,700.4 238.4,698 243.4,701.4 241,703.8" fill="#fff" stroke="#000"/>
<polygon points="241,703.8 243.4,701.4 243.4,707 241,710" fill="#fff" stroke="#000"/>
<polygon points="245.6,707.4 250.6,710.8 250.6,717 245.6,713.6" fill="#fff" stroke="#000"/>
<polygon points="245.6,707.4 248,705 253,708.4 250.6,710.8" fill="#fff" stroke="#000"/>
<polygon points="250.6,710.8 253,708.4 253,714 250.6,717" fill="#fff" stroke="#000"/>
<polygon points="255.2,714.3 260.2,717.7 260.2,723.9 255.2,720.5" fill="#fff" stroke="#000"/>
<polygon points="255.2,714.3 257.6,711.9 262.6,715.3 260.2,717.7" fill="#fff" stroke="#000"/>
<polygon points="260.2,717.7 262.6,715.3 262.6,720.9 260.2,723.9" fill="#fff" stroke="#000"/>
<polygon points="264.8,721.2 269.8,724.6 269.8,730.9 264.8,727.5" fill="#fff" stroke="#000"/>
<polygon points="264.8,721.2 267.2,718.9 272.2,722.2 269.8,724.6" fill="#fff" stroke="#000"/>
<polygon points="269.8,724.6 272.2,722.2 272.2,727.9 269.8,730.9" fill="#fff" stroke="#000"/>
<polygon shape-rendering="auto" points="33.1,577.6 44.3,563.3 43.1,562.3 29.7,574.4" fill="#000" stroke="none"/>
<rect x="1.2" y="575.5" width="33.2" height="17.8" fill="#000" stroke="none" rx="3.2"/>
<rect x="3.2" y="577.5" width="28.6" height="13.2" fill="#fff" stroke="none" rx="1.5"/>
<line x1="31.4" y1="576" x2="37.5" y2="569.4" stroke="#fff" shape-rendering="auto"/>
<text class="lb" transform="translate(4.9 588.4) scale(0.800 1)" font-size="12.6" textLength="30" lengthAdjust="spacing">CN1</text>
<polygon shape-rendering="auto" points="79.2,612.7 87.9,602.4 86.7,601.2 76,609.3" fill="#000" stroke="none"/>
<rect x="45.4" y="609.9" width="34.4" height="17.6" fill="#000" stroke="none" rx="3.2"/>
<rect x="47.4" y="611.9" width="29.8" height="13" fill="#fff" stroke="none" rx="1.5"/>
<line x1="77.6" y1="611" x2="82.4" y2="606.4" stroke="#fff" shape-rendering="auto"/>
<text class="lb" transform="translate(51 622.8) scale(0.800 1)" font-size="12.6" textLength="25.3" lengthAdjust="spacing">JP1</text>
<polygon shape-rendering="auto" points="151.8,550 162.6,560.5 163.8,559.5 155.4,547" fill="#000" stroke="none"/>
<rect x="74.3" y="532.1" width="81.7" height="18.1" fill="#000" stroke="none" rx="3.2"/>
<rect x="76.3" y="534.1" width="77.1" height="13.5" fill="#fff" stroke="none" rx="1.5"/>
<line x1="153.6" y1="548.5" x2="158.4" y2="554.2" stroke="#fff" shape-rendering="auto"/>
<text class="lb" transform="translate(79.8 544.9) scale(0.800 1)" font-size="12.6" textLength="88.2" lengthAdjust="spacing">DC POWER</text>
<polygon shape-rendering="auto" points="212.5,525.5 204.7,534.6 205.7,535.8 215.5,528.9" fill="#000" stroke="none"/>
<rect x="212.3" y="510.4" width="34.4" height="18.5" fill="#000" stroke="none" rx="3.2"/>
<rect x="214.3" y="512.4" width="29.8" height="13.9" fill="#fff" stroke="none" rx="1.5"/>
<line x1="214" y1="527.2" x2="209.6" y2="531.2" stroke="#fff" shape-rendering="auto"/>
<text class="lb" transform="translate(219 523.6) scale(0.800 1)" font-size="12.6" textLength="26.9" lengthAdjust="spacing">JP2</text>
<polygon shape-rendering="auto" points="278.7,578.2 270.2,589.7 271.4,590.7 282.1,581.4" fill="#000" stroke="none"/>
<rect x="278.5" y="563.1" width="137.1" height="18.6" fill="#000" stroke="none" rx="3.2"/>
<rect x="280.5" y="565.1" width="132.5" height="14" fill="#fff" stroke="none" rx="1.5"/>
<line x1="280.4" y1="579.8" x2="275.6" y2="585" stroke="#fff" shape-rendering="auto"/>
<text class="lb" transform="translate(282.5 576.6) scale(0.800 1)" font-size="12.6" textLength="160.4" lengthAdjust="spacing">FLOPPY INTERFACE</text>
<polygon shape-rendering="auto" points="148.3,665.2 157.8,652.7 156.6,651.7 144.9,662" fill="#000" stroke="none"/>
<rect x="46.6" y="662.2" width="102.5" height="18.6" fill="#000" stroke="none" rx="3.2"/>
<rect x="48.6" y="664.2" width="97.9" height="14" fill="#fff" stroke="none" rx="1.5"/>
<line x1="146.6" y1="663.6" x2="151.9" y2="657.9" stroke="#fff" shape-rendering="auto"/>
<text class="lb" transform="translate(49.2 674.6) scale(0.800 1)" font-size="12.6" textLength="119.7" lengthAdjust="spacing">CD INTERFACE</text>
<polygon shape-rendering="auto" points="243.1,738 253,725.1 251.8,724.1 239.7,734.8" fill="#000" stroke="none"/>
<rect x="162.2" y="735.1" width="81.9" height="18.4" fill="#000" stroke="none" rx="3.2"/>
<rect x="164.2" y="737.1" width="77.3" height="13.8" fill="#fff" stroke="none" rx="1.5"/>
<line x1="241.4" y1="736.4" x2="246.9" y2="730.5" stroke="#fff" shape-rendering="auto"/>
<text class="lb" transform="translate(166.8 748.6) scale(0.800 1)" font-size="12.6" textLength="88.5" lengthAdjust="spacing">DC POWER</text>
<rect x="591.5" y="487.5" width="139" height="107" fill="#fff" stroke="#000"/>
<text x="620.7" y="505" font-size="13" textLength="82" lengthAdjust="spacing">Detail of JP2</text>
<rect x="617.5" y="531.5" width="90" height="43" fill="#fff" stroke="#000"/>
<rect x="624.5" y="537.5" width="12" height="12" fill="#fff" stroke="#000"/>
<rect x="641.5" y="537.5" width="12" height="12" fill="#fff" stroke="#000"/>
<rect x="657.5" y="537.5" width="12" height="12" fill="#fff" stroke="#000"/>
<rect x="674.5" y="537.5" width="12" height="12" fill="#fff" stroke="#000"/>
<rect x="691.5" y="537.5" width="12" height="12" fill="#fff" stroke="#000"/>
<rect x="624.5" y="556.5" width="12" height="12" fill="#fff" stroke="#000"/>
<rect x="641.5" y="556.5" width="12" height="12" fill="#fff" stroke="#000"/>
<rect x="657.5" y="556.5" width="12" height="12" fill="#fff" stroke="#000"/>
<rect x="674.5" y="556.5" width="12" height="12" fill="#fff" stroke="#000"/>
<rect x="691.5" y="556.5" width="12" height="12" fill="#fff" stroke="#000"/>
<text x="627.6" y="527" font-size="12">1</text>
<text x="693.4" y="527" font-size="12">9</text>
<text x="626.6" y="587.2" font-size="12">2</text>
<text x="690.8" y="587.2" font-size="12" textLength="12" lengthAdjust="spacing">10</text>
<rect x="471.5" y="620.5" width="138" height="107" fill="#fff" stroke="#000"/>
<text x="499.7" y="637.4" font-size="13" textLength="81" lengthAdjust="spacing">Detail of JP1</text>
<rect x="500.5" y="652.5" width="77" height="43" fill="#fff" stroke="#000"/>
<rect x="507.5" y="659.5" width="12" height="12" fill="#fff" stroke="#000"/>
<rect x="524.5" y="659.5" width="12" height="12" fill="#fff" stroke="#000"/>
<rect x="540.5" y="659.5" width="12" height="12" fill="#fff" stroke="#000"/>
<rect x="557.5" y="659.5" width="12" height="12" fill="#fff" stroke="#000"/>
<rect x="507.5" y="677.5" width="12" height="12" fill="#fff" stroke="#000"/>
<rect x="524.5" y="677.5" width="12" height="12" fill="#fff" stroke="#000"/>
<rect x="540.5" y="677.5" width="12" height="12" fill="#fff" stroke="#000"/>
<rect x="557.5" y="677.5" width="12" height="12" fill="#fff" stroke="#000"/>
<text x="507.6" y="713" font-size="12">1</text>
<text x="526.2" y="713" font-size="12">2</text>
<text x="544.2" y="713" font-size="12">3</text>
<text x="560.4" y="713" font-size="12">4</text>
<text x="649.4" y="792.2" font-size="12" textLength="37.5" lengthAdjust="spacing">60436</text>
</svg>
</body>
</html>
